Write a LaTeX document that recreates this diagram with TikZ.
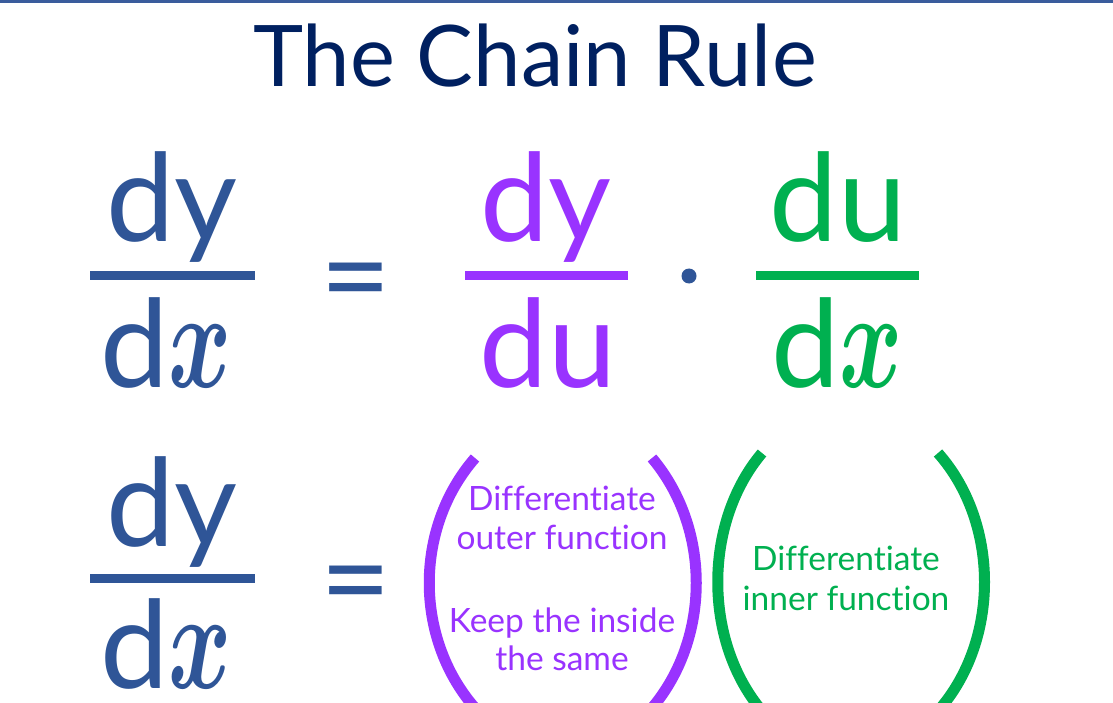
\documentclass[tikz,border=0pt]{standalone}
\usepackage{fontspec}
\setmainfont{Lato}[Ligatures=NoCommon]
\newcommand\varx{\scalebox{9.6}[14]{\fontsize{10}{12}\selectfont\boldmath$x$}}
\definecolor{topline}{HTML}{3A5C9C}
\definecolor{titleblue}{HTML}{002060}
\definecolor{fracblue}{HTML}{2F5597}
\definecolor{outerpurple}{HTML}{9933FF}
\definecolor{innergreen}{HTML}{00B050}
\begin{document}
\begin{tikzpicture}[x=1pt,y=-1pt,
	every node/.style={inner sep=0pt,anchor=base},
	big/.style={font=\fontsize{122}{122}\selectfont},
	note/.style={font=\fontsize{33.5}{33.5}\selectfont},
	bar/.style={line width=8.5pt},
	paren/.style={line width=11pt}]
	\clip (0,0) rectangle (1113,703);
	\fill[white] (0,0) rectangle (1113,703);
	\fill[topline] (0,0) rectangle (1113,3.5);
	% title
	\node[titleblue,font=\fontsize{85}{85}\selectfont] (title) at (535,87) {The Chain Rule};
	% first line
	\coordinate (L1) at (90,275.5);
	\coordinate (R1) at (255,275.5);
	\node[fracblue,big] (dyA) at (172,242) {dy};
	\node[fracblue,big] (dxA) at (166,387) {d\varx};
	\node[fracblue,big] (eqA) at (355.5,318) {=};
	\coordinate (L2) at (465,275.5);
	\coordinate (R2) at (628,275.5);
	\node[outerpurple,big] (dyB) at (546,242) {dy};
	\node[outerpurple,big] (duB) at (548,387) {du};
	\node[circle,fill=fracblue,minimum size=15pt] (dot) at (689,276) {};
	\coordinate (L3) at (756,275.5);
	\coordinate (R3) at (919,275.5);
	\node[innergreen,big] (duC) at (838,242) {du};
	\node[innergreen,big] (dxC) at (837,387) {d\varx};
	\draw[fracblue,bar] (L1) -- (R1);
	\draw[outerpurple,bar] (L2) -- (R2);
	\draw[innergreen,bar] (L3) -- (R3);
	% second line
	\coordinate (L4) at (90,578.5);
	\coordinate (R4) at (255,578.5);
	\node[fracblue,big] (dyD) at (172,546) {dy};
	\node[fracblue,big] (dxD) at (166,688) {d\varx};
	\node[fracblue,big] (eqD) at (355.5,621) {=};
	\draw[fracblue,bar] (L4) -- (R4);
	% brackets
	\coordinate (PLt) at (475,458);
	\coordinate (PLb) at (475,708);
	\coordinate (PRt) at (652,458);
	\coordinate (PRb) at (652,708);
	\coordinate (GLt) at (762,453);
	\coordinate (GLb) at (762,711);
	\coordinate (GRt) at (938,453);
	\coordinate (GRb) at (938,711);
	\draw[outerpurple,paren] (PLt) .. controls (414,528) and (414,638) .. (PLb);
	\draw[outerpurple,paren] (PRt) .. controls (711,528) and (711,638) .. (PRb);
	\draw[innergreen,paren] (GLt) .. controls (703,523) and (703,641) .. (GLb);
	\draw[innergreen,paren] (GRt) .. controls (1000,523) and (1000,641) .. (GRb);
	\node[outerpurple,note] (outA) at (562,510) {Differentiate};
	\node[outerpurple,note] (outB) at (562,549) {outer function};
	\node[outerpurple,note] (outC) at (562,632) {Keep the inside};
	\node[outerpurple,note] (outD) at (562,670) {the same};
	\node[innergreen,note] (inA) at (846,570) {Differentiate};
	\node[innergreen,note] (inB) at (846,610) {inner function};
\end{tikzpicture}
\end{document}
